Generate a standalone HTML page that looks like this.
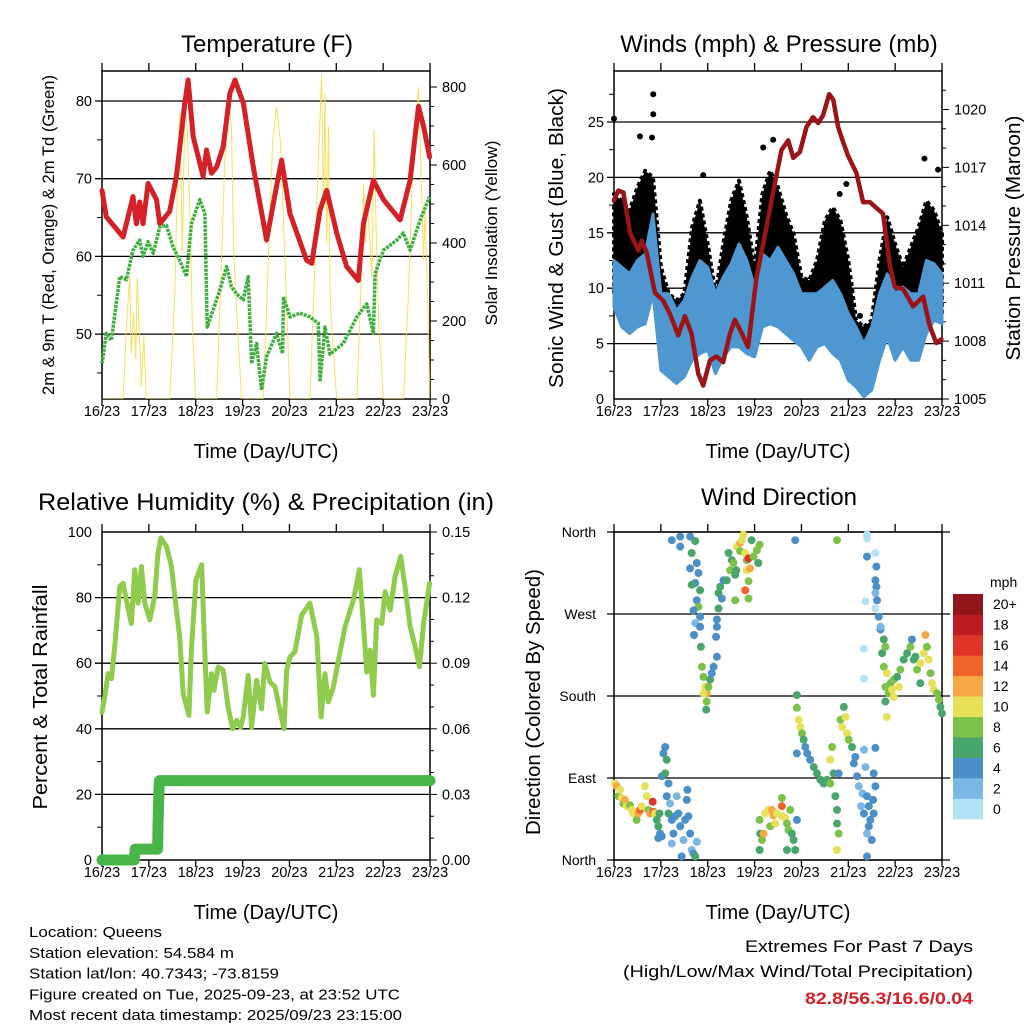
<!DOCTYPE html>
<html><head><meta charset="utf-8"><style>
html,body{margin:0;padding:0;background:#fff;}
svg{display:block;font-family:"Liberation Sans",Arial,sans-serif;}
</style></head><body>
<svg id="c" width="1024" height="1024" viewBox="0 0 1024 1024" xmlns="http://www.w3.org/2000/svg"></svg>
<script>
// ---------- Temperature panel data ----------
const tempT=[0,2.2,10.8,15.9,17.6,19.3,21,23.6,27.9,29.6,34.7,38.1,42.4,44.1,46.7,51.8,53.5,56.1,58.7,62.1,65.5,68.1,72.4,77.5,84.3,89.4,92,96.3,104.8,107.4,111.7,115.1,120.2,125.3,131.3,133.9,139,144.2,152.7,157.8,162.1,164.7,167.8];
const tempV=[68.5,65.1,62.5,67.7,64.2,67.0,64.2,69.4,67.3,64.2,65.8,70.3,79.7,82.7,75.4,70.3,73.7,70.7,71.5,74.1,81.0,82.7,79.7,71.5,62.1,69.0,72.4,65.5,59.5,59.1,66.0,68.5,63.0,58.7,56.9,64.2,69.8,67.3,64.7,69.8,79.3,76.7,72.8];
const dewT=[0,2.2,4.8,9.1,12.5,15.9,19.3,21,23.6,26.2,29.6,33,36.4,39.8,43.3,45.8,50.1,52.7,53.9,56.9,60.4,63.8,66.3,68.9,72.3,74.9,76.6,79.2,81.7,84.3,89.4,92.5,92.9,96.3,101.4,106.5,110.8,111.7,114.2,116.8,123.6,130.5,135.6,139,139.9,144.2,151,154.4,157.8,163,167.8];
const dewV=[46.2,50.1,49.2,57.4,57.0,60.8,62.1,60.0,61.9,60.4,63.8,64.0,61.2,59.5,57.4,64.2,67.3,65.5,50.9,53.1,55.7,58.7,56.1,55.2,54.4,57.4,46.2,48.8,42.8,47.1,50.1,47.5,54.8,52.2,52.7,52.2,51.4,44.1,50.9,47.4,48.8,52.2,53.9,50.1,57.8,60.8,62.1,63.0,60.8,64.7,67.7];
const solarT=[0,10.8,12.5,14.2,15,16.2,17.3,18,19,20.2,21.4,22.7,34.7,37.3,38.5,39.8,41.2,42.4,43.6,45,46.3,48,58.7,61.2,62.9,65.2,66.3,67.5,68.9,71.5,82.6,85.2,87.4,89.4,91.5,93.7,96.3,106.5,109.1,110.8,111.7,112.5,113.4,114.2,115.1,116,116.8,118.2,120.2,130.5,132.5,133.9,134.9,136,138.2,139.4,140.4,141.8,144.2,154.4,157,158.7,160.4,162.1,163.3,164.7,165.5,166.7,168];
const solarV=[0,0,185,313,117,220,100,313,185,32,160,0,0,270,527,732,373,749,698,484,185,0,0,356,612,757,698,373,228,0,0,356,655,749,655,356,0,0,356,612,723,834,484,783,399,698,270,143,0,0,270,553,399,510,313,689,441,185,0,0,270,527,672,800,611,356,484,270,0];
const tempTicks=[50,60,70,80];
const solarTicks=[0,200,400,600,800];
const dayLabels=["16/23","17/23","18/23","19/23","20/23","21/23","22/23","23/23"];
// ---------- Wind panel data ----------
const windT=[0,4,8,12,16,20,24,28,32,36,40,44,48,52,56,60,64,68,72,76,80,84,88,92,96,100,104,108,112,116,120,124,128,132,136,140,144,148,152,156,160,164,168];
const windHi=[12.5,11.9,11.3,12.5,13.1,16.7,9.5,9.5,8.0,8.9,11,12.5,11.9,9.5,11,12.2,14,12.5,10.1,13.1,12.5,13.7,12.5,11.3,9.5,9.5,9.5,10.1,10.7,9.5,7.7,6.5,5,6.5,9.5,11.3,9.5,10.1,9.5,9.5,12.5,12.2,11.3];
const windLo=[8.3,6.5,5.9,6.5,6.8,9.5,2.6,2,1.4,2,3.5,4.1,4.4,2.3,3.8,4.7,4.7,4.1,3.8,6.5,6.8,6.5,5.9,5.3,4.7,3.5,4.7,5,4.1,3.5,1.7,1.1,0.2,0.8,3.5,5.6,3.5,4.7,3.5,3.5,5.9,7.1,6.8];
const gustHi=[18.5,17.9,17,19.1,20.6,20,11.9,9.5,8.9,9.5,15.5,17.9,14,9.5,14,17.9,19.7,16.4,11.9,18.5,20.6,19.1,16.7,14.9,11,10.7,12.5,16.1,17.3,16.1,12.5,7.1,6.5,7.1,12.5,16.4,14,11.9,13.7,15.5,17.9,17,14.9];
const gustOutT=[0,20.1,20.1,13.3,19.5,45.7,76.4,81.5,119,159,166,115.6,126];
const gustOutV=[25.3,27.5,25.7,23.7,23.6,20.2,22.7,23.4,19.4,21.7,20.7,18.5,7.5];
const presT=[0,2.2,4.8,8.2,12.5,14.2,16.7,21,25.2,28.7,32.9,36.3,39.7,43.2,45.7,49.1,52.5,55.9,59.4,61.9,64.5,68.7,73,78.1,81.5,85.8,89.2,91.8,95.2,98.6,102,104.6,107.1,110.2,112.3,114.8,117.4,119.9,124.2,127.6,131,134.4,137.8,141.3,143.8,148.1,153.2,158.3,161.7,165.1,167.7];
const presV=[1015.3,1015.8,1015.7,1013.6,1012.7,1013.2,1012.6,1010.5,1010.1,1009.4,1008.3,1009.3,1008.4,1006.3,1005.7,1007.0,1007.2,1006.9,1008.4,1009.1,1008.6,1007.7,1011.3,1013.9,1015.7,1017.9,1018.4,1017.5,1017.8,1019.1,1019.6,1019.3,1019.7,1020.8,1020.5,1019.1,1018.3,1017.6,1016.7,1015.2,1015.2,1014.9,1014.6,1011.9,1010.8,1010.7,1009.8,1010.3,1008.8,1007.9,1008.1];
const windTicks=[0,5,10,15,20,25];
const presTicks=[1005,1008,1011,1014,1017,1020];
// ---------- RH panel data ----------
const rhT=[0,1.4,3.1,4.8,6.5,9.1,10.8,12.5,15,16.8,18.5,20.2,21.9,24.5,27,28.7,30.1,33,35.6,38.1,39.8,41.6,44.5,45.8,48.1,51,52.7,53.9,56.1,57.3,59.5,62.1,64.6,66.9,68.9,71,72.3,74.9,76.6,79.2,81.7,83.4,86,88.6,91.1,93.2,94.6,96.3,98.8,102.3,106.5,110,112.2,114.2,115.9,118.5,121.1,124.5,128.8,131.8,133.9,135.6,137.3,139,140.7,143.3,145,147.6,150.1,153,155.2,157.8,160.4,162.6,164.7,167.8];
const rhV=[45.1,49.7,56.8,55.3,65,83.4,84.4,79.3,72.1,88.5,78.3,89.5,78.3,73.2,80.3,93.6,98.2,95.6,89.5,76.2,68.1,50.7,44.1,64,85.4,90,63,45.1,56.8,51.7,58.9,57.9,46.6,40,42.6,40.5,43.6,56.3,40.5,54.8,46.1,59.9,54.3,52.8,45.6,40,57.9,61.9,63.5,74.7,78.3,68.1,43.6,56.8,48.2,52.8,60.9,71.1,79.3,88.5,72.1,57.3,64,50.2,73.2,72.1,81.8,76.2,86.4,92.6,83.4,71.1,65,58.9,72.1,84.4];
const precipT=[0,16.5,17,28.5,28.6,28.7,28.8,29,29.4,168];
const precipV=[0,0,0.005,0.005,0.0095,0.0156,0.0187,0.027,0.0363,0.0363];
const rhTicks=[0,20,40,60,80,100];
const precipTicks=["0.00","0.03","0.06","0.09","0.12","0.15"];
// ---------- Wind direction data ----------
const dirT=[0.5,1.4,2.2,3.1,4.0,4.8,5.6,6.5,8.2,9.1,9.9,11.6,12.5,13.3,14.2,15.9,16.8,17.6,18.5,19.8,20.2,21,21.9,22.7,23.6,23.3,24.5,25.3,26.2,27,26.2,27.9,27,28.7,27.9,29.6,30.4,29.6,31.3,32.1,33,33.9,34.7,35.6,36.4,37.3,37.6,38.1,39,39.8,40.7,41.6,42.4,24.5,22.7,
29.6,33.9,33.9,39,41.6,39.8,42.4,39,43.3,41.6,39.8,44.1,42.4,43.3,40.7,44.1,41.6,44.1,41,44.5,45,45.8,46.7,47.5,48.4,45.8,49.2,50.1,51,47.5,47.2,52.7,52.3,52.7,53.5,53.5,54.4,56.1,55.2,57.8,58.7,60.4,59.5,61.2,62.1,62.1,62.9,64.6,64.6,65.5,66.3,67.2,68,68.9,68,69.7,70.5,71.5,73.2,73.9,74.6,68.9,67.2,68.9,62.6,52.7,
92.8,114.2,129.6,129.6,133.9,129.6,134.4,133.9,134.4,133.9,134.7,128.8,133.9,
74.6,74.9,75.8,74.6,76.6,77.5,79.2,80.9,81.7,83.4,86,86,87.7,88.6,89.4,90.3,91.1,92,92.8,88.6,93.7,86,80,82.6,
93.7,93.7,94.6,95.4,96.3,97.1,98,99,93.7,100.5,102.3,104,105.7,107.4,109.1,110.8,110.8,111.7,112.5,113.4,114.2,114.2,115.1,114.2,115.1,116,116.9,117.7,118.5,119.4,120.2,121.9,123.6,122.8,124.5,125.4,128,128.8,127.3,126.5,128,129.6,130.5,131.3,129.6,132,133,133.9,132.7,133,133.9,129.6,130.5,
135.6,136.5,138.2,137.3,139,138.2,139.8,139,140.7,141.6,142.4,143.3,145,145.9,146.7,148.4,150.1,151.8,152.6,153.5,154.4,155.2,156.9,156.9,158.7,159.5,160.3,161.2,162.1,162.9,163.8,165.5,166.4,167.2,168,139.8,136.5,128,128,139,143.3];
const dirD=[84,81,70,77,68,62,66,59,60,55,51,44,51,55,59,81,70,55,51,64,53,51,44,37,29,51,92,117,124,110,95,84,70,62,51,44,29,18,48,70,51,37,4,22,44,66,77,48,29,11,7,4,20,26,24,
351,355,344,355,350,337,326,320,315,304,302,296,285,278,274,267,260,256,247,234,212,201,190,183,190,183,198,205,212,174,165,223,245,264,276,293,300,307,287,307,337,329,318,326,313,285,344,348,339,351,357,337,329,331,318,320,351,333,340,326,346,306,296,287,318,256,
351,351,357,353,337,333,322,307,300,293,285,284,276,
44,29,22,11,29,51,55,55,49,51,59,48,46,40,33,55,29,22,11,11,44,68,37,40,
181,167,154,146,139,132,124,117,117,110,102,95,88,84,88,84,110,124,95,70,55,40,29,11,95,154,146,168,157,139,132,124,113,106,92,81,121,102,73,59,51,70,59,44,29,22,95,81,66,51,123,4,37,
267,253,242,227,234,212,205,190,183,194,187,198,201,190,209,220,227,234,242,220,223,209,194,216,227,247,234,220,205,194,187,183,176,168,161,157,256,232,199,174,179];
const dirS=[10,12,9,10,11,9,12,10,9,11,10,9,12,15,10,11,10,9,12,16,14,10,7,6,5,7,5,4,5,6,6,4,5,3,6,4,5,3,4,3,5,4,5,3,5,4,4,5,4,3,4,6,3,4,5,
4,4,4,4,6,6,5,4,4,5,7,6,4,8,5,4,3,4,4,7,8,9,10,12,9,11,6,4,5,8,7,4,4,5,6,6,7,4,4,6,7,6,8,9,6,8,10,12,8,10,11,10,9,16,11,12,7,8,8,7,9,9,14,8,6,4,
4,8,1,1,0,4,4,4,4,3,4,1,0,
8,6,8,6,13,10,11,12,12,10,15,11,10,9,8,8,7,6,6,6,5,8,9,10,
6,8,10,10,8,6,4,5,4,4,6,6,6,6,7,8,10,9,7,6,7,7,9,11,4,9,10,6,10,10,8,6,5,4,4,3,2,3,3,3,4,4,4,4,3,4,4,5,4,5,4,4,4,
5,4,6,6,8,8,10,8,8,9,10,8,7,10,8,7,6,8,5,6,7,8,6,10,11,12,9,10,9,11,10,9,8,6,6,10,3,1,1,6,10];
const dirTicks=[0,90,180,270,360];
const dirLabels=["North","East","South","West","North"];
const speedLabels=["0","2","4","6","8","10","12","14","16","18","20+"];
const speedColors=["#b3e2f7","#7ab8e3","#4a8fc8","#48a56c","#7cc24a","#e6e05a","#f6a847","#ef6428","#dc3528","#bb1d23","#911519"];

const NS="http://www.w3.org/2000/svg";
const svg=document.getElementById('c');
function mk(tag,attrs,parent){const e=document.createElementNS(NS,tag);for(const k in attrs)e.setAttribute(k,attrs[k]);(parent||svg).appendChild(e);return e;}
function txt(s,attrs,parent){const e=mk('text',attrs,parent);e.textContent=s;return e;}

const P1={l:102,r:430,t:71,b:399}, P2={l:614,r:942,t:71,b:399}, P3={l:102,r:430,t:532,b:860}, P4={l:614,r:942,t:532,b:860};
const xT=(P,t)=>P.l+t*(P.r-P.l)/168;
const yTemp=v=>101+(80-v)*7.77;
const ySolar=s=>399-s*0.39;
const yWind=v=>399-v*11.08;
const yPres=p=>399-(p-1005)*19.3;
const yRH=v=>860-v*3.28;
const yPrec=p=>860-p/0.15*328;
const yDir=d=>860-d*328/360;

function pts(P,ts,vs,yf){return ts.map((t,i)=>xT(P,t).toFixed(1)+','+yf(vs[i]).toFixed(1)).join(' ');}

function frame(P,name){
  const g=mk('g',{});
  
  
  mk('rect',{x:P.l,y:P.t,width:P.r-P.l,height:P.b-P.t,fill:'none',stroke:'#000','stroke-width':1.5},g);
  for(let d=0;d<=7;d++){const x=xT(P,d*24);
    mk('line',{x1:x,y1:P.b,x2:x,y2:P.b+7,stroke:'#000','stroke-width':1.3},g);
    mk('line',{x1:x,y1:P.t,x2:x,y2:P.t-8,stroke:'#000','stroke-width':1.3},g);
    const l=txt(dayLabels[d],{x:x,y:P.b+17,'font-size':14.5,'text-anchor':'middle'},g);
    
    
  }
  const xt=txt('Time (Day/UTC)',{x:(P.l+P.r)/2,y:P.b+59,'font-size':20,'text-anchor':'middle'},g);
  
  
  return g;
}
function hgrid(P,y,g,ext){mk('line',{x1:P.l-(ext||7),y1:y,x2:P.r,y2:y,stroke:'#000','stroke-width':1.3},g);}

// ===== Panel 1 =====
(function(){
  const P=P1;
  const t=txt('Temperature (F)',{x:267,y:52,'font-size':24,'text-anchor':'middle'});
  
  
  const g=frame(P,'temperature');
  tempTicks.forEach(v=>{hgrid(P,yTemp(v),g);
    const l=txt(String(v),{x:P.l-10,y:yTemp(v)+5,'font-size':14.5,'text-anchor':'end'},g);
    
    });
  [45,55,65,75].forEach(v=>mk('line',{x1:P.l-5,y1:yTemp(v),x2:P.l,y2:yTemp(v),stroke:'#000'},g));
  for(let s=0;s<=800;s+=50){mk('line',{x1:P.r,y1:ySolar(s),x2:P.r+(s%200===0?7:4),y2:ySolar(s),stroke:'#000'},g);}
  solarTicks.forEach(s=>{const l=txt(String(s),{x:P.r+12,y:ySolar(s)+5,'font-size':14.5},g);
    
    });
  const yl=txt('2m & 9m T (Red, Orange) & 2m Td (Green)',{x:0,y:0,'font-size':16.5,'text-anchor':'middle',transform:'translate(54,235) rotate(-90)',textLength:320,lengthAdjust:'spacingAndGlyphs'});
  
  
  const yr=txt('Solar Insolation (Yellow)',{x:0,y:0,'font-size':16.5,'text-anchor':'middle',transform:'translate(497,233) rotate(-90)',textLength:185,lengthAdjust:'spacingAndGlyphs'});
  
  
  const clip=mk('clipPath',{id:'cp1'});mk('rect',{x:P.l,y:P.t-8,width:P.r-P.l,height:P.b-P.t+8},clip);
  const s=mk('polyline',{points:pts(P,solarT,solarV,ySolar),fill:'none',stroke:'#f7d940','stroke-width':1,'stroke-opacity':0.85,'clip-path':'url(#cp1)'});
  
  
  const r=mk('polyline',{points:pts(P,tempT,tempV,yTemp),fill:'none',stroke:'#d42027','stroke-width':5,'stroke-linejoin':'round','stroke-linecap':'round'});
  
  
  const d=mk('polyline',{points:pts(P,dewT,dewV,yTemp),fill:'none',stroke:'#3fae3f','stroke-width':3.5,'stroke-dasharray':'3 1','stroke-linejoin':'round'});
  
  
})();

// ===== Panel 2 =====
(function(){
  const P=P2;
  const t=txt('Winds (mph) & Pressure (mb)',{x:779,y:52,'font-size':24,'text-anchor':'middle'});
  
  
  const g=frame(P,'winds');
  windTicks.forEach(v=>{if(v>0)hgrid(P,yWind(v),g);
    const l=txt(String(v),{x:P.l-10,y:yWind(v)+5,'font-size':14.5,'text-anchor':'end'},g);
    
    });
  [2.5,7.5,12.5,17.5,22.5,27.5].forEach(v=>mk('line',{x1:P.l-5,y1:yWind(v),x2:P.l,y2:yWind(v),stroke:'#000'},g));
  for(let p=1005;p<=1021;p++){mk('line',{x1:P.r,y1:yPres(p),x2:P.r+((p-1005)%3===0?7:4),y2:yPres(p),stroke:'#000'},g);}
  presTicks.forEach(p=>{const l=txt(String(p),{x:P.r+12,y:yPres(p)+5,'font-size':14.5},g);
    
    });
  const yl=txt('Sonic Wind & Gust (Blue, Black)',{x:0,y:0,'font-size':20,'text-anchor':'middle',transform:'translate(563,238) rotate(-90)',textLength:300,lengthAdjust:'spacingAndGlyphs'});
  
  
  const yr=txt('Station Pressure (Maroon)',{x:0,y:0,'font-size':20,'text-anchor':'middle',transform:'translate(1020,238) rotate(-90)',textLength:245,lengthAdjust:'spacingAndGlyphs'});
  
  
  const top=windT.map((tt,i)=>xT(P,tt).toFixed(1)+','+yWind(gustHi[i]).toFixed(1));
  const bot=windT.map((tt,i)=>xT(P,tt).toFixed(1)+','+yWind(windLo[i]+1).toFixed(1)).reverse();
  const gb=mk('polygon',{points:top.concat(bot).join(' '),fill:'#000',stroke:'#000','stroke-width':4,'stroke-dasharray':'4 3','stroke-linejoin':'round'});
  
  
  gustOutT.forEach((tt,i)=>{const c=mk('circle',{cx:xT(P,tt),cy:yWind(gustOutV[i]),r:3,fill:'#000'});
    
    });
  const wt=windT.map((tt,i)=>xT(P,tt).toFixed(1)+','+yWind(windHi[i]).toFixed(1));
  const wb=windT.map((tt,i)=>xT(P,tt).toFixed(1)+','+yWind(windLo[i]).toFixed(1)).reverse();
  const wbd=mk('polygon',{points:wt.concat(wb).join(' '),fill:'#4f97d1',stroke:'#4f97d1','stroke-width':3,'stroke-linejoin':'round'});
  
  
  const pl=mk('polyline',{points:pts(P,presT,presV,yPres),fill:'none',stroke:'#9b1518','stroke-width':4.5,'stroke-linejoin':'round','stroke-linecap':'round'});
  
  
})();

// ===== Panel 3 =====
(function(){
  const P=P3;
  const t=txt('Relative Humidity (%) & Precipitation (in)',{x:266,y:510,'font-size':24,'text-anchor':'middle',textLength:456,lengthAdjust:'spacingAndGlyphs'});
  
  
  const g=frame(P,'humidity');
  rhTicks.forEach(v=>{if(v>0&&v<100)hgrid(P,yRH(v),g);
    const l=txt(String(v),{x:P.l-10,y:yRH(v)+5,'font-size':14.5,'text-anchor':'end'},g);
    
    });
  [10,30,50,70,90].forEach(v=>mk('line',{x1:P.l-5,y1:yRH(v),x2:P.l,y2:yRH(v),stroke:'#000'},g));
  for(let k=0;k<=15;k++){mk('line',{x1:P.r,y1:yPrec(k*0.01),x2:P.r+(k%3===0?7:4),y2:yPrec(k*0.01),stroke:'#000'},g);}
  precipTicks.forEach(s=>{const l=txt(s,{x:P.r+12,y:yPrec(parseFloat(s))+5,'font-size':14.5},g);
    
    });
  const yl=txt('Percent & Total Rainfall',{x:0,y:0,'font-size':20,'text-anchor':'middle',transform:'translate(47,697) rotate(-90)',textLength:225,lengthAdjust:'spacingAndGlyphs'});
  
  
  const rh=mk('polyline',{points:pts(P,rhT,rhV,yRH),fill:'none',stroke:'#8fcb4d','stroke-width':5,'stroke-linejoin':'round','stroke-linecap':'round'});
  
  
  const pr=mk('polyline',{points:pts(P,precipT,precipV,yPrec),fill:'none',stroke:'#47b548','stroke-width':11,'stroke-linejoin':'round','stroke-linecap':'round'});
  
  
})();

// ===== Panel 4 =====
(function(){
  const P=P4;
  const t=txt('Wind Direction',{x:779,y:505,'font-size':24,'text-anchor':'middle'});
  
  
  const g=frame(P,'wind-direction');
  dirTicks.forEach((d,i)=>{mk('line',{x1:P.l-7,y1:yDir(d),x2:P.r+8,y2:yDir(d),stroke:'#000','stroke-width':1.3},g);
    const l=txt(dirLabels[i],{x:P.l-18,y:yDir(d)+5,'font-size':14,'text-anchor':'end'},g);
    
    });
  const yl=txt('Direction (Colored By Speed)',{x:0,y:0,'font-size':20,'text-anchor':'middle',transform:'translate(540,702) rotate(-90)',textLength:266,lengthAdjust:'spacingAndGlyphs'});
  
  
  const dg=mk('g',{});
  
  
  dirT.forEach((tt,i)=>{const idx=Math.min(10,Math.floor(dirS[i]/2));
    const c=mk('circle',{cx:xT(P,tt).toFixed(1),cy:yDir(dirD[i]).toFixed(1),r:4,fill:speedColors[idx]},dg);
    
    });
  const cb=mk('g',{});
  
  
  const h=225/11;
  speedColors.forEach((c,i)=>{const y=819-(i+1)*h;
    const r=mk('rect',{x:953,y:y,width:30,height:h+0.3,fill:c},cb);
    
    
    const l=txt(speedLabels[i],{x:993,y:y+h/2+5,'font-size':14},cb);
    
    });
  const u=txt('mph',{x:990,y:587,'font-size':14},cb);
  
  
})();

// ===== footer =====
const info=[["Location: Queens",133],["Station elevation: 54.584 m",205],["Station lat/lon: 40.7343; -73.8159",250],["Figure created on Tue, 2025-09-23, at 23:52 UTC",371],["Most recent data timestamp: 2025/09/23 23:15:00",373]];
info.forEach((r,i)=>{const e=txt(r[0],{x:29,y:937+i*20.8,'font-size':15,textLength:r[1],lengthAdjust:'spacingAndGlyphs'});
  
  });
const e1=txt('Extremes For Past 7 Days',{x:973,y:952,'font-size':17,'text-anchor':'end',textLength:228,lengthAdjust:'spacingAndGlyphs'});


const e2=txt('(High/Low/Max Wind/Total Precipitation)',{x:973,y:977,'font-size':17,'text-anchor':'end',textLength:350,lengthAdjust:'spacingAndGlyphs'});


const e3=txt('82.8/56.3/16.6/0.04',{x:973,y:1004,'font-size':17,'font-weight':'bold',fill:'#d42027','text-anchor':'end',textLength:168,lengthAdjust:'spacingAndGlyphs'});


</script>
</body></html>
